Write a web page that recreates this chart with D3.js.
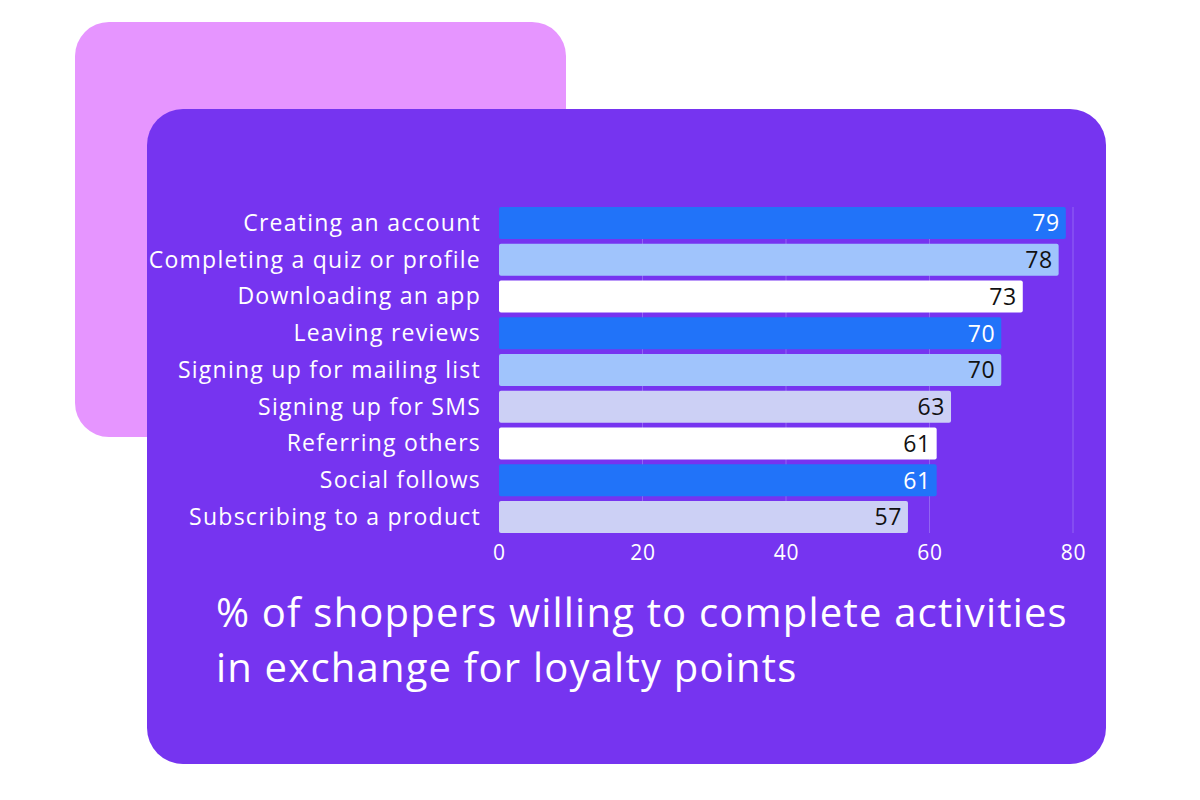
<!DOCTYPE html>
<html>
<head>
<meta charset="utf-8">
<script src="https://cdn.jsdelivr.net/npm/d3@7"></script>
<style>
  body { margin: 0; background: #fff; }
  svg text { font-family: "Open Sans", "Inter", sans-serif; }
</style>
</head>
<body>
<svg id="chart"></svg>
<script>
// chart data
const activities = [
	"Creating an account",
	"Completing a quiz or profile",
	"Downloading an app",
	"Leaving reviews",
	"Signing up for mailing list",
	"Signing up for SMS",
	"Referring others",
	"Social follows",
	"Subscribing to a product"
];
const shares = [79, 78, 73, 70, 70, 63, 61, 61, 57];
const barColors = ["#2173f9", "#a0c4fc", "#ffffff", "#2173f9", "#a0c4fc", "#ccd0f5", "#ffffff", "#2173f9", "#ccd0f5"];
const xTicks = [0, 20, 40, 60, 80];
const titleLines = [
	"% of shoppers willing to complete activities",
	"in exchange for loyalty points"
];

const data = activities.map((a, i) => ({ label: a, value: shares[i], color: barColors[i] }));

const width = 1200, height = 800;

const svg = d3.select('#chart')
	.attr('width', width)
	.attr('height', height);

// background cards
svg.append('rect')
	.attr('x', 75).attr('y', 22)
	.attr('width', 491).attr('height', 415)
	.attr('rx', 34)
	.attr('fill', '#e695ff');

svg.append('rect')
	.attr('x', 147).attr('y', 109)
	.attr('width', 959).attr('height', 655)
	.attr('rx', 36)
	.attr('fill', '#7634f0');

const xScale = d3.scaleLinear()
	.domain([0, 80])
	.range([499, 1073]);

const yScale = d3.scaleBand()
	.domain(activities)
	.range([204.6, 535.4])
	.paddingInner(0.13)
	.paddingOuter(0.065);

const chart = svg.append('g');

// gridlines
chart.selectAll('.grid')
	.data(xTicks.filter(t => t > 0))
	.join('line')
	.attr('class', 'grid')
	.attr('x1', d => xScale(d))
	.attr('x2', d => xScale(d))
	.attr('y1', 207)
	.attr('y2', 533)
	.attr('stroke', '#9264f3')
	.attr('stroke-width', 1);

// x axis labels
const xAxis = d3.axisBottom(xScale)
	.tickValues(xTicks)
	.tickSize(0)
	.tickPadding(0);

chart.append('g')
	.attr('transform', 'translate(0, 540)')
	.call(xAxis)
	.call(g => g.select('.domain').remove())
	.call(g => g.selectAll('text')
		.attr('fill', '#ffffff')
		.attr('font-size', 21)
		.attr('letter-spacing', 0.8)
		.attr('dy', '0.95em'));

// bars
chart.selectAll('.bar')
	.data(data)
	.join('rect')
	.attr('class', 'bar')
	.attr('x', xScale(0))
	.attr('y', d => yScale(d.label))
	.attr('width', d => xScale(d.value) - xScale(0))
	.attr('height', yScale.bandwidth())
	.attr('rx', 2)
	.attr('fill', d => d.color);

// value labels
chart.selectAll('.value')
	.data(data)
	.join('text')
	.attr('class', 'value')
	.attr('x', d => xScale(d.value) - 6)
	.attr('y', d => yScale(d.label) + yScale.bandwidth() / 2)
	.attr('dy', '0.36em')
	.attr('text-anchor', 'end')
	.attr('font-size', 23)
	.attr('letter-spacing', 0.6)
	.attr('fill', d => d.color === '#2173f9' ? '#ffffff' : '#111111')
	.text(d => d.value);

// category labels
chart.selectAll('.cat')
	.data(data)
	.join('text')
	.attr('class', 'cat')
	.attr('x', 481)
	.attr('y', d => yScale(d.label) + yScale.bandwidth() / 2)
	.attr('dy', '0.34em')
	.attr('text-anchor', 'end')
	.attr('font-size', 23)
	.attr('letter-spacing', 1.25)
	.attr('fill', '#ffffff')
	.text(d => d.label);

// title
svg.selectAll('.title')
	.data(titleLines)
	.join('text')
	.attr('class', 'title')
	.attr('x', 216)
	.attr('y', (d, i) => 627 + i * 55)
	.attr('font-size', 40)
	.attr('letter-spacing', 1.2)
	.attr('fill', '#ffffff')
	.text(d => d);
</script>
</body>
</html>
